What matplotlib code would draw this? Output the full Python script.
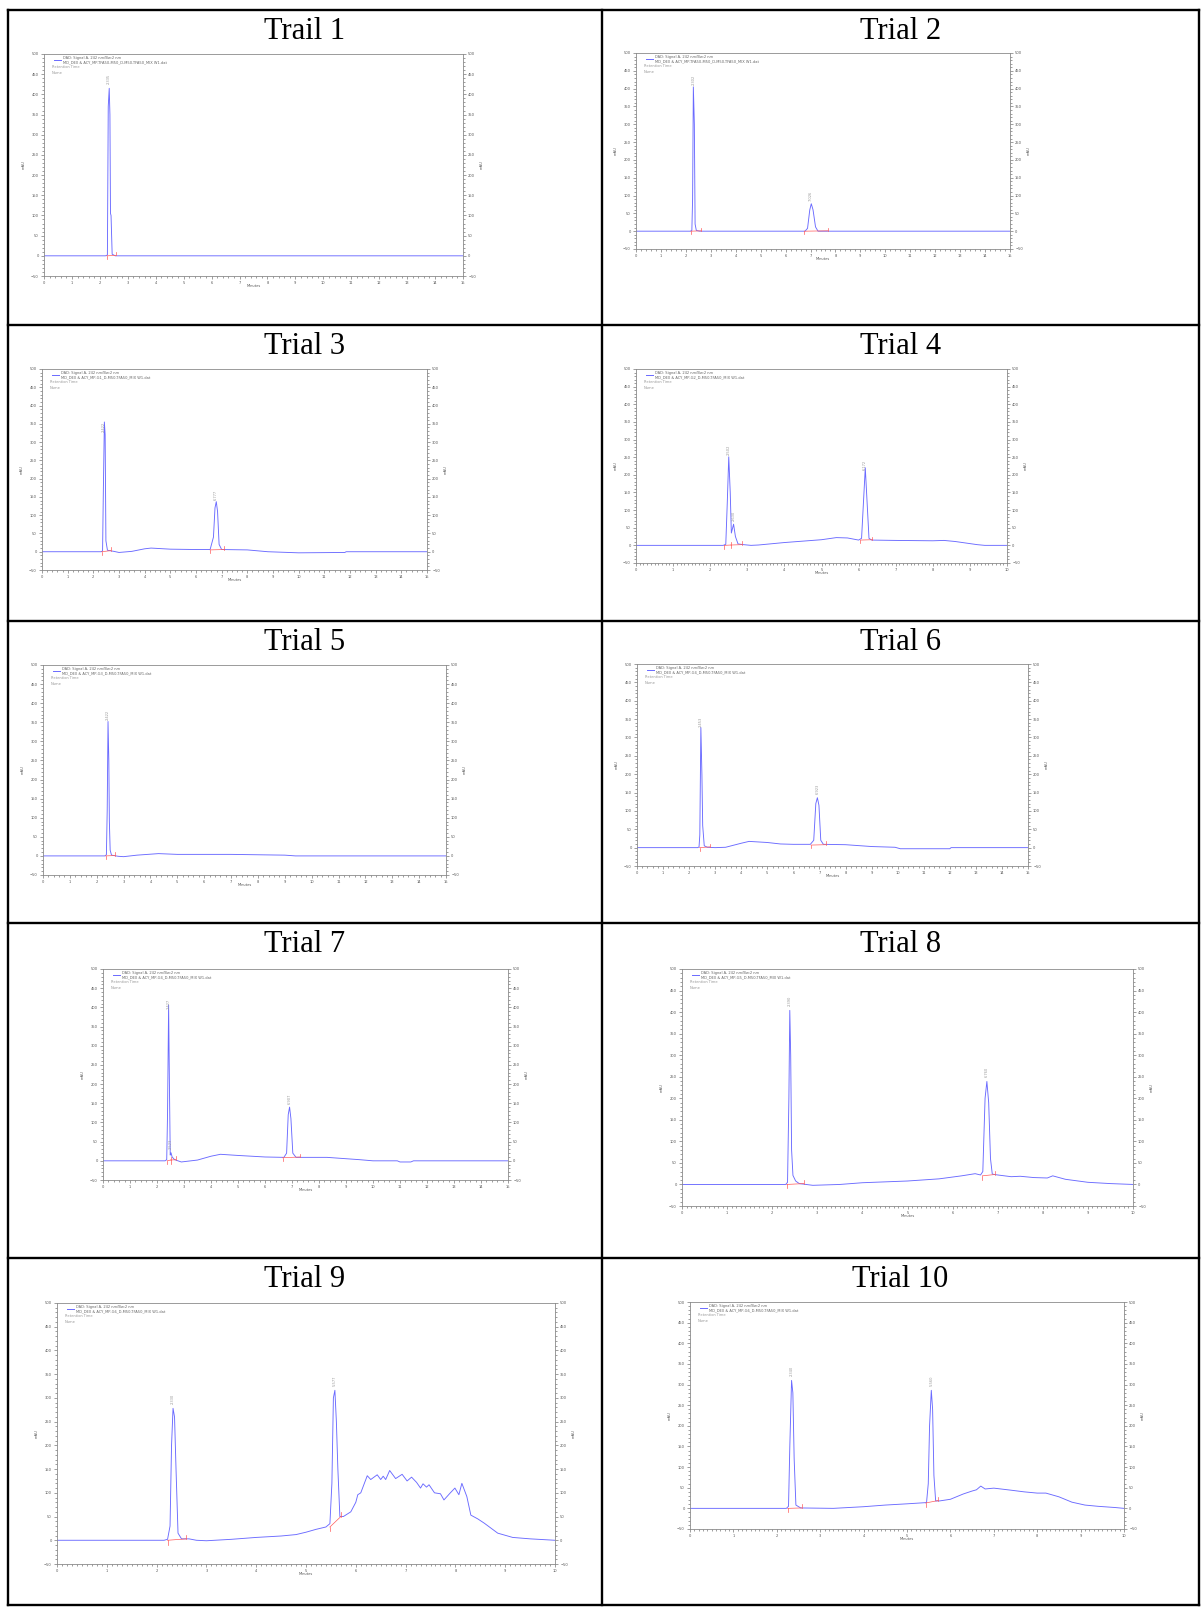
import numpy as np
import matplotlib
matplotlib.use("Agg")
import matplotlib.pyplot as plt
from matplotlib.lines import Line2D
from matplotlib.ticker import MultipleLocator

W, H = 1201, 1607

titles = ["Trail 1", "Trial 2", "Trial 3", "Trial 4", "Trial 5",
          "Trial 6", "Trial 7", "Trial 8", "Trial 9", "Trial 10"]
run_minutes = [15, 15, 15, 10, 15, 15, 15, 10, 10, 10]

signal_name = "DAD: Signal A, 242 nm/Bw:2 nm"
file_names = [
    "MD_DEX & ACY_MP-TFA50-M50_D-M50-TFA50_MIX W1.dat",
    "MD_DEX & ACY_MP-TFA50-M50_D-M50-TFA50_MIX W1.dat",
    "MD_DEX & ACY_MP-G1_D-M50-TFA50_MIX W1.dat",
    "MD_DEX & ACY_MP-G2_D-M50-TFA50_MIX W1.dat",
    "MD_DEX & ACY_MP-G3_D-M50-TFA50_MIX W1.dat",
    "MD_DEX & ACY_MP-G4_D-M50-TFA50_MIX W1.dat",
    "MD_DEX & ACY_MP-G4_D-M50-TFA50_MIX W1.dat",
    "MD_DEX & ACY_MP-G5_D-M50-TFA50_MIX W1.dat",
    "MD_DEX & ACY_MP-G6_D-M50-TFA50_MIX W1.dat",
    "MD_DEX & ACY_MP-G6_D-M50-TFA50_MIX W1.dat",
]

# traces (minutes, mAU)
t1 = [0, 2.20, 2.27, 2.30, 2.335, 2.36, 2.38, 2.40, 2.44, 2.55, 15]
s1 = [0, 0, 2, 370, 415, 350, 105, 100, 4, 0, 0]

t2 = [0, 2.18, 2.24, 2.27, 2.30, 2.34, 2.37, 2.42, 2.55, 6.78, 6.88, 6.97, 7.03, 7.10, 7.20, 7.30, 15]
s2 = [0, 0, 2, 90, 405, 300, 20, 2, 0, 0, 8, 60, 77, 60, 12, 0, 0]

t3 = [0, 2.30, 2.36, 2.39, 2.43, 2.46, 2.49, 2.55, 2.8, 3.0, 3.5, 4.0, 4.25, 5.0, 6.0, 6.55,
      6.68, 6.74, 6.79, 6.84, 6.90, 7.0, 8.0, 8.8, 10.0, 11.8, 11.85, 15]
s3 = [0, 0, 2, 165, 355, 320, 30, 4, 1, -2, 1, 8, 10, 7, 6, 6,
      40, 120, 137, 110, 20, 6, 5, 0, -3, -2, 0, 0]

t4 = [0, 2.35, 2.42, 2.46, 2.50, 2.54, 2.57, 2.63, 2.68, 2.75, 2.9, 3.1, 3.3, 4.0, 5.0, 5.4,
      5.7, 6.0, 6.08, 6.13, 6.18, 6.23, 6.28, 6.35, 7.0, 8.0, 8.3, 8.6, 9.2, 9.4, 10]
s4 = [0, 0, 3, 120, 251, 150, 35, 60, 25, 4, 2, 0, 1, 8, 16, 22,
      21, 15, 20, 120, 220, 120, 20, 15, 14, 13, 14, 11, 2, 0, 0]

t5 = [0, 2.30, 2.36, 2.39, 2.42, 2.45, 2.47, 2.50, 2.55, 2.8, 3.0, 3.5, 4.3, 5.0, 7.0, 9.0, 9.4, 15]
s5 = [0, 0, 3, 120, 352, 250, 90, 15, 2, -1, -2, 2, 6, 4, 4, 2, 0, 0]

t6 = [0, 2.33, 2.38, 2.41, 2.45, 2.49, 2.52, 2.58, 2.7, 3.0, 3.4, 4.0, 4.3, 5.0, 5.5, 6.0,
      6.65, 6.78, 6.86, 6.92, 6.98, 7.05, 7.15, 8.0, 9.0, 9.9, 10.1, 12.0, 12.05, 15]
s6 = [0, 0, 2, 35, 327, 200, 60, 5, 1, 0, 1, 12, 17, 14, 10, 9,
      9, 20, 120, 136, 115, 20, 9, 8, 3, 1, -3, -3, 0, 0]

t7 = [0, 2.30, 2.36, 2.39, 2.43, 2.46, 2.49, 2.52, 2.56, 2.65, 2.9, 3.5, 4.0, 4.35, 5.0, 6.0,
      6.7, 6.8, 6.86, 6.91, 6.96, 7.03, 7.15, 8.3, 9.5, 10.0, 10.9, 11.0, 11.4, 11.5, 15]
s7 = [0, 0, 3, 120, 406, 200, 15, 21, 10, 3, -3, 2, 12, 17, 14, 10,
      9, 20, 120, 140, 110, 20, 9, 9, 3, 0, 0, -3, -3, 0, 0]

t8 = [0, 2.30, 2.34, 2.37, 2.39, 2.41, 2.43, 2.46, 2.52, 2.6, 2.9, 3.5, 4.0, 5.0, 5.7, 6.2, 6.5,
      6.62, 6.67, 6.72, 6.76, 6.80, 6.84, 6.88, 7.0, 7.3, 7.5, 7.8, 8.1, 8.22, 8.5, 9.0, 9.5, 10]
s8 = [0, 0, 5, 200, 404, 300, 80, 21, 8, 2, -2, 0, 4, 8, 13, 20, 25,
      22, 30, 200, 239, 190, 60, 24, 22, 18, 19, 16, 15, 20, 12, 5, 2, 0]

t9 = [0, 2.15, 2.22, 2.27, 2.30, 2.33, 2.36, 2.39, 2.43, 2.5, 2.65, 2.8, 3.0, 3.5, 4.0, 4.5,
      4.8, 5.0, 5.2, 5.4, 5.48, 5.52, 5.55, 5.58, 5.61, 5.64, 5.68, 5.75, 5.9, 6.0, 6.04, 6.1,
      6.23, 6.3, 6.43, 6.5, 6.55, 6.6, 6.68, 6.8, 6.93, 7.03, 7.12, 7.22, 7.3, 7.35, 7.42, 7.47,
      7.58, 7.7, 7.77, 7.89, 7.99, 8.07, 8.13, 8.23, 8.31, 8.45, 8.58, 8.85, 9.15, 9.5, 10]
s9 = [0, 0, 2, 30, 200, 278, 260, 150, 15, 3, 3, 0, -1, 2, 6, 9,
      12, 17, 23, 28, 35, 120, 300, 316, 250, 150, 50, 50, 60, 80, 96, 100,
      136, 128, 138, 128, 135, 128, 147, 130, 139, 125, 133, 122, 110, 119, 112, 117,
      100, 98, 85, 99, 110, 96, 120, 92, 53, 45, 36, 15, 6, 3, 0]

t10 = [0, 2.22, 2.27, 2.30, 2.34, 2.37, 2.40, 2.44, 2.55, 3.3, 4.0, 4.5, 5.0, 5.45,
       5.49, 5.52, 5.56, 5.59, 5.62, 5.66, 5.75, 6.0, 6.3, 6.5, 6.6, 6.7, 6.8, 7.0,
       7.4, 7.7, 8.0, 8.2, 8.5, 8.8, 9.1, 9.4, 9.8, 10]
s10 = [0, 0, 5, 150, 310, 280, 120, 8, 1, 0, 4, 8, 11, 14,
       60, 200, 286, 240, 80, 18, 18, 22, 35, 42, 45, 54, 47, 49,
       44, 40, 37, 37, 28, 15, 8, 5, 2, 0]

# retention times of labelled peaks
rt1 = [2.335]
rt2 = [2.302, 7.026]
rt3 = [2.422, 6.777]
rt4 = [2.502, 2.630, 6.172]
rt5 = [2.422]
rt6 = [2.453, 6.923]
rt7 = [2.427, 2.523, 6.907]
rt8 = [2.390, 6.760]
rt9 = [2.330, 5.577]
rt10 = [2.340, 5.560]

# integration baselines: start min, start mAU, end min, end mAU
bl1 = [[2.25, 0, 2.58, 1]]
bl2 = [[2.20, 0, 2.62, 1], [6.75, 0, 7.70, 1]]
bl3 = [[2.33, 0, 2.68, 3], [6.55, 5, 7.10, 6]]
bl4 = [[2.38, 0, 2.56, 1], [2.56, 1, 2.85, 2], [6.05, 15, 6.37, 16]]
bl5 = [[2.33, 0, 2.68, 1]]
bl6 = [[2.40, 0, 2.80, 2], [6.68, 7, 7.25, 8]]
bl7 = [[2.38, 0, 2.50, 2], [2.50, 2, 2.70, 3], [6.65, 8, 7.30, 10]]
bl8 = [[2.32, 0, 2.70, 2], [6.66, 20, 6.93, 23]]
bl9 = [[2.22, 0, 2.60, 3], [5.48, 28, 5.70, 50]]
bl10 = [[2.25, 0, 2.57, 1], [5.43, 13, 5.72, 19]]

traces = [(t1, s1), (t2, s2), (t3, s3), (t4, s4), (t5, s5),
          (t6, s6), (t7, s7), (t8, s8), (t9, s9), (t10, s10)]
peaks = [rt1, rt2, rt3, rt4, rt5, rt6, rt7, rt8, rt9, rt10]
baselines = [bl1, bl2, bl3, bl4, bl5, bl6, bl7, bl8, bl9, bl10]

# layout in pixels
col_x = [8, 602, 1199]
row_y = [10, 325, 621, 923, 1258, 1605]
boxes = [(44, 54, 463, 276), (636, 53, 1010, 249),
         (42, 369, 427, 570), (636, 369, 1007, 563),
         (43, 665, 446, 875), (637, 664, 1028, 866),
         (103, 969, 508, 1180), (682, 969, 1133, 1206),
         (57, 1303, 555, 1564), (690, 1302, 1124, 1529)]

blue = "#6a6aff"
red = "#ff5a5a"
grey = "#8a8a8a"
small = 2.6


def fx(x):
    return x / W


def fy(y):
    return 1 - y / H


fig = plt.figure(figsize=(W / 100, H / 100), dpi=100)

# table grid
for x in col_x:
    fig.add_artist(Line2D([fx(x), fx(x)], [fy(row_y[0]), fy(row_y[-1])],
                          color="black", lw=1.7, transform=fig.transFigure))
for y in row_y:
    fig.add_artist(Line2D([fx(col_x[0]), fx(col_x[-1])], [fy(y), fy(y)],
                          color="black", lw=1.7, transform=fig.transFigure))

for i in range(10):
    r, c = divmod(i, 2)
    cx = (col_x[c] + col_x[c + 1]) / 2
    fig.text(fx(cx), fy(row_y[r] + 29), titles[i], ha="center", va="baseline",
             fontsize=22, family="Liberation Serif")

    l, top_px, rr, b = boxes[i]
    ax = fig.add_axes([fx(l), fy(b), (rr - l) / W, (b - top_px) / H])
    xmax = run_minutes[i]
    ax.set_xlim(0, xmax)
    ax.set_ylim(-50, 500)
    ax.xaxis.set_major_locator(MultipleLocator(1))
    ax.xaxis.set_minor_locator(MultipleLocator(0.2 if xmax == 15 else 0.1))
    ax.yaxis.set_major_locator(MultipleLocator(50))
    ax.yaxis.set_minor_locator(MultipleLocator(10))
    ax.tick_params(which="both", direction="out", labelsize=small, colors="#555555",
                   width=0.4, pad=1.5, right=True, labelright=True)
    ax.tick_params(which="major", length=2.2)
    ax.tick_params(which="minor", length=1.1)
    for sp in ax.spines.values():
        sp.set_color(grey)
        sp.set_linewidth(0.6)

    t, s = traces[i]
    ax.plot(t, s, color=blue, lw=0.65)

    for rt in peaks[i]:
        apex = np.interp(rt, t, s)
        ax.text(rt, apex + 10, "%.3f" % rt, rotation=90, ha="center", va="bottom",
                fontsize=small, color="#999999")

    for x0, y0, x1, y1 in baselines[i]:
        ax.plot([x0, x1], [y0, y1], color=red, lw=0.5)
        ax.plot([x0, x0], [y0 - 9, y0], color=red, lw=0.5)
        ax.plot([x1, x1], [y1, y1 + 9], color=red, lw=0.5)

    # axis titles
    mid = (top_px + b) / 2
    fig.text(fx(l - 20), fy(mid), "mAU", rotation=90,
             ha="center", va="center", fontsize=small, color="#555555")
    fig.text(fx(rr + 19), fy(mid), "mAU", rotation=90,
             ha="center", va="center", fontsize=small, color="#555555")
    fig.text(fx((l + rr) / 2), fy(b + 10), "Minutes", ha="center", va="center",
             fontsize=small, color="#555555")

    # legend block
    fig.add_artist(Line2D([fx(l + 10), fx(l + 17)], [fy(top_px + 6), fy(top_px + 6)],
                          color=blue, lw=0.7, transform=fig.transFigure))
    fig.text(fx(l + 19), fy(top_px + 4), signal_name, ha="left", va="center",
             fontsize=small, color="#666666")
    fig.text(fx(l + 19), fy(top_px + 8), file_names[i], ha="left", va="center",
             fontsize=small, color="#666666")
    fig.text(fx(l + 8), fy(top_px + 13), "Retention Time", ha="left", va="center",
             fontsize=small, color="#999999")
    fig.text(fx(l + 8), fy(top_px + 19), "Name", ha="left", va="center",
             fontsize=small, color="#999999")

fig.savefig("out.png", dpi=100)
